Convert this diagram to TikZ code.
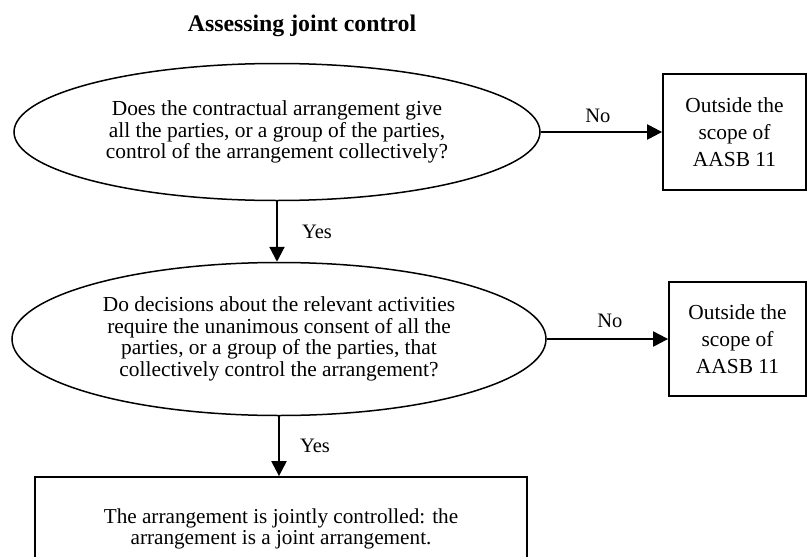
\documentclass[tikz,border=0pt]{standalone}
\usepackage{fontspec}
\setmainfont{Liberation Serif}
\usetikzlibrary{shapes.geometric,arrows.meta}
\begin{document}
\begin{tikzpicture}[x=1pt,y=-1pt,
  decision/.style={draw,line width=1.5pt,ellipse,inner sep=0pt,align=center,
    font={\fontsize{21.4}{21.5}\selectfont}},
  outbox/.style={draw,line width=1.8pt,rectangle,inner sep=0pt,align=center,
    font={\fontsize{21.4}{27}\selectfont}},
  flow/.style={line width=2.2pt,-{Triangle[length=15pt,width=15pt]}},
  lbl/.style={inner sep=0pt,font={\fontsize{20.5}{24}\selectfont}},
  title/.style={inner sep=0pt,font={\fontsize{23.8}{28}\selectfont\bfseries}}]
\useasboundingbox (0,0) rectangle (807,557);
\clip (0,0) rectangle (807,557);
\fill[white] (0,0) rectangle (807,557);

\node[title] (t) at (302,26) {Assessing joint control};

\node[decision,minimum width=526pt,minimum height=137pt] (e1) at (277,132)
  {Does the contractual arrangement give\\all the parties, or a group of the parties,\\control of the arrangement collectively?};
\node[outbox,minimum width=143pt,minimum height=116pt] (b1) at (734.5,132)
  {Outside the\\scope of\\AASB 11};

\node[decision,minimum width=534pt,minimum height=153pt] (e2) at (279,339)
  {Do decisions about the relevant activities\\require the unanimous consent of all the\\parties, or a group of the parties, that\\collectively control the arrangement?};
\node[outbox,minimum width=137pt,minimum height=114pt] (b2) at (737.5,339)
  {Outside the\\scope of\\AASB 11};

\node[outbox,minimum width=492pt,minimum height=104pt,
  font={\fontsize{21.2}{20.5}\selectfont}] (b3) at (281,529)
  {The arrangement is jointly controlled: the\\arrangement is a joint arrangement.};

\draw[flow] (e1.east) -- node[lbl,pos=0.47,above=8pt] {No} (b1.west);
\draw[flow] (e2.east) -- node[lbl,pos=0.52,above=10pt] {No} (b2.west);
\draw[flow] (e1.south) -- node[lbl,midway,right=24pt] {Yes} (e1.south |- e2.north);
\draw[flow] (e2.south) -- node[lbl,midway,right=20pt] {Yes} (e2.south |- b3.north);
\end{tikzpicture}
\end{document}
